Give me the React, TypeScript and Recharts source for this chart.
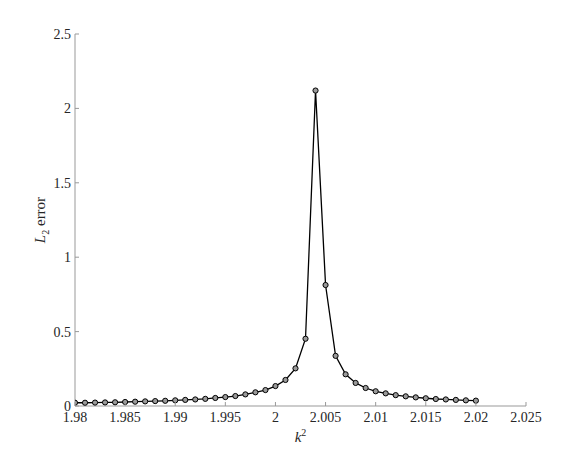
import React from 'react';
import { LineChart, Line, XAxis, YAxis } from 'recharts';

const kSquared = [
  1.98, 1.981, 1.982, 1.983, 1.984, 1.985, 1.986, 1.987, 1.988, 1.989,
  1.99, 1.991, 1.992, 1.993, 1.994, 1.995, 1.996, 1.997, 1.998, 1.999,
  2.0, 2.001, 2.002, 2.003, 2.004, 2.005, 2.006, 2.007, 2.008, 2.009,
  2.01, 2.011, 2.012, 2.013, 2.014, 2.015, 2.016, 2.017, 2.018, 2.019, 2.02,
];
const l2Error = [
  0.022, 0.022, 0.023, 0.024, 0.025, 0.027, 0.029, 0.031, 0.033, 0.035,
  0.038, 0.041, 0.044, 0.048, 0.054, 0.06, 0.067, 0.078, 0.092, 0.107,
  0.134, 0.175, 0.253, 0.452, 2.12, 0.813, 0.337, 0.213, 0.155, 0.121,
  0.099, 0.085, 0.073, 0.065, 0.058, 0.052, 0.047, 0.044, 0.041, 0.038, 0.036,
];
const xTicks = [1.98, 1.985, 1.99, 1.995, 2.0, 2.005, 2.01, 2.015, 2.02, 2.025];
const xTickLabels = ['1.98', '1.985', '1.99', '1.995', '2', '2.005', '2.01', '2.015', '2.02', '2.025'];
const yTicks = [0, 0.5, 1, 1.5, 2, 2.5];
const yTickLabels = ['0', '0.5', '1', '1.5', '2', '2.5'];

const data = kSquared.map((k, i) => ({ k, e: l2Error[i] }));

const FONT = 'Liberation Serif';
const AXIS_COLOR = '#999999';
const TEXT_COLOR = '#262626';
const TICK_LEN = 4;
const X_MARGIN = 5;
const Y_MARGIN = 4;

const XTick = (props: any) => {
  const { x, y, payload } = props;
  const idx = xTicks.findIndex((t) => Math.abs(t - payload.value) < 1e-9);
  const label = idx >= 0 ? xTickLabels[idx] : String(payload.value);
  const axisY = y - X_MARGIN;
  return (
    <g>
      <line x1={x} y1={axisY} x2={x} y2={axisY - TICK_LEN} stroke={AXIS_COLOR} strokeWidth={1} />
      <text x={x} y={y} dy="0.75em" textAnchor="middle" fontSize={14} fontFamily={FONT} fill={TEXT_COLOR}>
        {label}
      </text>
    </g>
  );
};

const YTick = (props: any) => {
  const { x, y, payload } = props;
  const idx = yTicks.findIndex((t) => Math.abs(t - payload.value) < 1e-9);
  const label = idx >= 0 ? yTickLabels[idx] : String(payload.value);
  const axisX = x + Y_MARGIN;
  return (
    <g>
      <line x1={axisX} y1={y} x2={axisX + TICK_LEN} y2={y} stroke={AXIS_COLOR} strokeWidth={1} />
      <text x={x} y={y} dy="0.35em" textAnchor="end" fontSize={14} fontFamily={FONT} fill={TEXT_COLOR}>
        {label}
      </text>
    </g>
  );
};

const XLabel = (props: any) => {
  const vb = props.viewBox || {};
  const cx = vb.x + vb.width / 2;
  return (
    <text x={cx} y={442} textAnchor="middle" fontSize={15} fontFamily={FONT} fill={TEXT_COLOR}>
      <tspan fontStyle="italic">k</tspan>
      <tspan fontSize={10} dy={-6}>2</tspan>
    </text>
  );
};

const YLabel = (props: any) => {
  const vb = props.viewBox || {};
  const cy = vb.y + vb.height / 2;
  const cx = 45;
  return (
    <text
      x={cx}
      y={cy}
      textAnchor="middle"
      fontSize={15}
      fontFamily={FONT}
      fill={TEXT_COLOR}
      transform={`rotate(-90, ${cx}, ${cy})`}
    >
      <tspan fontStyle="italic">L</tspan>
      <tspan fontSize={10} dy={4}>2</tspan>
      <tspan dy={-4}> error</tspan>
    </text>
  );
};

const Dot = (props: any) => {
  const { cx, cy } = props;
  if (cx == null || cy == null) return null;
  return <circle cx={cx} cy={cy} r={2.6} fill="#9a9a9a" stroke="#000" strokeWidth={1} />;
};

export default function App() {
  return (
    <div style={{ position: 'absolute', left: 0, top: 0, width: 581, height: 457, background: '#fff', fontFamily: FONT }}>
      <LineChart
        width={581}
        height={457}
        data={data}
        margin={{ top: 34, right: 55, bottom: 21, left: 35 }}
        style={{ fontFamily: FONT }}
      >
        <XAxis
          dataKey="k"
          type="number"
          domain={[1.98, 2.025]}
          ticks={xTicks}
          allowDataOverflow
          height={30}
          stroke={AXIS_COLOR}
          tickLine={false}
          tickSize={0}
          tickMargin={X_MARGIN}
          tick={<XTick />}
          interval={0}
          label={<XLabel />}
        />
        <YAxis
          type="number"
          domain={[0, 2.5]}
          ticks={yTicks}
          width={40}
          stroke={AXIS_COLOR}
          tickLine={false}
          tickSize={0}
          tickMargin={Y_MARGIN}
          tick={<YTick />}
          interval={0}
          label={<YLabel />}
        />
        <Line
          dataKey="e"
          type="linear"
          stroke="#000"
          strokeWidth={1.3}
          dot={<Dot />}
          activeDot={false}
          isAnimationActive={false}
        />
      </LineChart>
    </div>
  );
}
